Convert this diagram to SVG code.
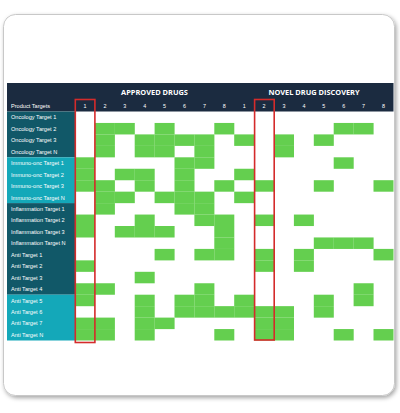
<svg xmlns="http://www.w3.org/2000/svg" width="400" height="413" viewBox="0 0 400 413">
<style>
.lbl{font-family:"Liberation Sans",Arial,sans-serif;font-size:5.6px;fill:#ffffff}
.num{font-family:"Liberation Sans",Arial,sans-serif;font-size:5.4px;fill:#ffffff;text-anchor:middle}
.hd{font-family:"Open Sans","Liberation Sans",sans-serif;font-size:7.4px;font-weight:bold;fill:#ffffff;text-anchor:middle}
.c{fill:#64cf4f}
.dk{fill:#115868}
.br{fill:#14a8b9}
.box{fill:none;stroke:#d42b2b;stroke-width:1.6}
</style>
<defs>
<filter id="sh" x="-5%" y="-5%" width="110%" height="110%">
<feDropShadow dx="1.5" dy="2" stdDeviation="2" flood-color="#000" flood-opacity="0.35"/>
</filter>
</defs>
<rect width="400" height="413" fill="#ffffff"/>
<rect id="card" x="3.5" y="14.5" width="391" height="381" rx="12" fill="#ffffff" stroke="#c8c8c8" stroke-width="1" filter="url(#sh)"/>
<g id="header">
<rect x="7" y="83" width="386.5" height="28.5" fill="#1b2b40"/>
<text class="hd" x="154.5" y="95">APPROVED DRUGS</text>
<text class="hd" x="314" y="95">NOVEL DRUG DISCOVERY</text>
<text class="lbl" x="11" y="108">Product Targets</text>
<text class="num" x="85" y="108">1</text>
<text class="num" x="104.9" y="108">2</text>
<text class="num" x="124.8" y="108">3</text>
<text class="num" x="144.7" y="108">4</text>
<text class="num" x="164.6" y="108">5</text>
<text class="num" x="184.5" y="108">6</text>
<text class="num" x="204.4" y="108">7</text>
<text class="num" x="224.3" y="108">8</text>
<text class="num" x="244.2" y="108">1</text>
<text class="num" x="264.1" y="108">2</text>
<text class="num" x="284" y="108">3</text>
<text class="num" x="303.9" y="108">4</text>
<text class="num" x="323.8" y="108">5</text>
<text class="num" x="343.7" y="108">6</text>
<text class="num" x="363.6" y="108">7</text>
<text class="num" x="383.5" y="108">8</text>
</g>
<g id="labels">
<rect class="dk" x="7" y="111.5" width="68" height="45.8"/>
<rect class="br" x="7" y="157.3" width="68" height="45.8"/>
<rect class="dk" x="7" y="203.1" width="68" height="91.6"/>
<rect class="br" x="7" y="294.7" width="68" height="45.8"/>
<text class="lbl" x="11" y="119.3">Oncology Target  1</text>
<text class="lbl" x="11" y="130.8">Oncology Target  2</text>
<text class="lbl" x="11" y="142.2">Oncology Target  3</text>
<text class="lbl" x="11" y="153.7">Oncology Target  N</text>
<text class="lbl" x="11" y="165.1">Immuno-onc Target 1</text>
<text class="lbl" x="11" y="176.6">Immuno-onc Target 2</text>
<text class="lbl" x="11" y="188">Immuno-onc Target 3</text>
<text class="lbl" x="11" y="199.5">Immuno-onc Target N</text>
<text class="lbl" x="11" y="210.9">Inflammation Target 1</text>
<text class="lbl" x="11" y="222.4">Inflammation Target 2</text>
<text class="lbl" x="11" y="233.8">Inflammation Target 3</text>
<text class="lbl" x="11" y="245.3">Inflammation Target N</text>
<text class="lbl" x="11" y="256.7">Anti Target 1</text>
<text class="lbl" x="11" y="268.2">Anti Target 2</text>
<text class="lbl" x="11" y="279.6">Anti Target 3</text>
<text class="lbl" x="11" y="291.1">Anti Target 4</text>
<text class="lbl" x="11" y="302.5">Anti Target 5</text>
<text class="lbl" x="11" y="314">Anti Target 6</text>
<text class="lbl" x="11" y="325.4">Anti Target 7</text>
<text class="lbl" x="11" y="336.9">Anti Target N</text>
</g>
<g id="cells">
<!-- r2 -->
<rect class="c" x="94.9" y="122.95" width="20" height="11.5"/>
<rect class="c" x="114.8" y="122.95" width="20" height="11.5"/>
<rect class="c" x="154.6" y="122.95" width="20" height="11.5"/>
<rect class="c" x="214.3" y="122.95" width="20" height="11.5"/>
<rect class="c" x="333.7" y="122.95" width="20" height="11.5"/>
<rect class="c" x="353.6" y="122.95" width="20" height="11.5"/>
<!-- r3 -->
<rect class="c" x="94.9" y="134.4" width="20" height="11.5"/>
<rect class="c" x="134.7" y="134.4" width="20" height="11.5"/>
<rect class="c" x="154.6" y="134.4" width="20" height="11.5"/>
<rect class="c" x="174.5" y="134.4" width="20" height="11.5"/>
<rect class="c" x="194.4" y="134.4" width="20" height="11.5"/>
<rect class="c" x="234.2" y="134.4" width="20" height="11.5"/>
<rect class="c" x="274" y="134.4" width="20" height="11.5"/>
<rect class="c" x="313.8" y="134.4" width="20" height="11.5"/>
<!-- r4 -->
<rect class="c" x="94.9" y="145.85" width="20" height="11.5"/>
<rect class="c" x="134.7" y="145.85" width="20" height="11.5"/>
<rect class="c" x="154.6" y="145.85" width="20" height="11.5"/>
<rect class="c" x="194.4" y="145.85" width="20" height="11.5"/>
<rect class="c" x="274" y="145.85" width="20" height="11.5"/>
<!-- r5 -->
<rect class="c" x="75" y="157.3" width="20" height="11.5"/>
<rect class="c" x="174.5" y="157.3" width="20" height="11.5"/>
<rect class="c" x="194.4" y="157.3" width="20" height="11.5"/>
<rect class="c" x="333.7" y="157.3" width="20" height="11.5"/>
<!-- r6 -->
<rect class="c" x="75" y="168.75" width="20" height="11.5"/>
<rect class="c" x="114.8" y="168.75" width="20" height="11.5"/>
<rect class="c" x="134.7" y="168.75" width="20" height="11.5"/>
<rect class="c" x="174.5" y="168.75" width="20" height="11.5"/>
<rect class="c" x="234.2" y="168.75" width="20" height="11.5"/>
<!-- r7 -->
<rect class="c" x="75" y="180.2" width="20" height="11.5"/>
<rect class="c" x="94.9" y="180.2" width="20" height="11.5"/>
<rect class="c" x="134.7" y="180.2" width="20" height="11.5"/>
<rect class="c" x="174.5" y="180.2" width="20" height="11.5"/>
<rect class="c" x="214.3" y="180.2" width="20" height="11.5"/>
<rect class="c" x="254.1" y="180.2" width="20" height="11.5"/>
<rect class="c" x="313.8" y="180.2" width="20" height="11.5"/>
<rect class="c" x="373.5" y="180.2" width="20" height="11.5"/>
<!-- r8 -->
<rect class="c" x="94.9" y="191.65" width="20" height="11.5"/>
<rect class="c" x="114.8" y="191.65" width="20" height="11.5"/>
<rect class="c" x="154.6" y="191.65" width="20" height="11.5"/>
<rect class="c" x="174.5" y="191.65" width="20" height="11.5"/>
<rect class="c" x="194.4" y="191.65" width="20" height="11.5"/>
<rect class="c" x="234.2" y="191.65" width="20" height="11.5"/>
<!-- r9 -->
<rect class="c" x="94.9" y="203.1" width="20" height="11.5"/>
<rect class="c" x="174.5" y="203.1" width="20" height="11.5"/>
<rect class="c" x="194.4" y="203.1" width="20" height="11.5"/>
<!-- r10 -->
<rect class="c" x="75" y="214.55" width="20" height="11.5"/>
<rect class="c" x="134.7" y="214.55" width="20" height="11.5"/>
<rect class="c" x="194.4" y="214.55" width="20" height="11.5"/>
<rect class="c" x="214.3" y="214.55" width="20" height="11.5"/>
<rect class="c" x="254.1" y="214.55" width="20" height="11.5"/>
<rect class="c" x="293.9" y="214.55" width="20" height="11.5"/>
<!-- r11 -->
<rect class="c" x="75" y="226" width="20" height="11.5"/>
<rect class="c" x="114.8" y="226" width="20" height="11.5"/>
<rect class="c" x="134.7" y="226" width="20" height="11.5"/>
<rect class="c" x="154.6" y="226" width="20" height="11.5"/>
<rect class="c" x="214.3" y="226" width="20" height="11.5"/>
<!-- r12 -->
<rect class="c" x="214.3" y="237.45" width="20" height="11.5"/>
<rect class="c" x="313.8" y="237.45" width="20" height="11.5"/>
<rect class="c" x="333.7" y="237.45" width="20" height="11.5"/>
<rect class="c" x="353.6" y="237.45" width="20" height="11.5"/>
<!-- r13 -->
<rect class="c" x="154.6" y="248.9" width="20" height="11.5"/>
<rect class="c" x="194.4" y="248.9" width="20" height="11.5"/>
<rect class="c" x="214.3" y="248.9" width="20" height="11.5"/>
<rect class="c" x="254.1" y="248.9" width="20" height="11.5"/>
<rect class="c" x="293.9" y="248.9" width="20" height="11.5"/>
<rect class="c" x="373.5" y="248.9" width="20" height="11.5"/>
<!-- r14 -->
<rect class="c" x="75" y="260.35" width="20" height="11.5"/>
<rect class="c" x="254.1" y="260.35" width="20" height="11.5"/>
<rect class="c" x="293.9" y="260.35" width="20" height="11.5"/>
<!-- r15 -->
<rect class="c" x="134.7" y="271.8" width="20" height="11.5"/>
<!-- r16 -->
<rect class="c" x="75" y="283.25" width="20" height="11.5"/>
<rect class="c" x="94.9" y="283.25" width="20" height="11.5"/>
<rect class="c" x="194.4" y="283.25" width="20" height="11.5"/>
<rect class="c" x="353.6" y="283.25" width="20" height="11.5"/>
<!-- r17 -->
<rect class="c" x="75" y="294.7" width="20" height="11.5"/>
<rect class="c" x="134.7" y="294.7" width="20" height="11.5"/>
<rect class="c" x="174.5" y="294.7" width="20" height="11.5"/>
<rect class="c" x="194.4" y="294.7" width="20" height="11.5"/>
<rect class="c" x="234.2" y="294.7" width="20" height="11.5"/>
<rect class="c" x="313.8" y="294.7" width="20" height="11.5"/>
<rect class="c" x="353.6" y="294.7" width="20" height="11.5"/>
<!-- r18 -->
<rect class="c" x="134.7" y="306.15" width="20" height="11.5"/>
<rect class="c" x="174.5" y="306.15" width="20" height="11.5"/>
<rect class="c" x="194.4" y="306.15" width="20" height="11.5"/>
<rect class="c" x="214.3" y="306.15" width="20" height="11.5"/>
<rect class="c" x="234.2" y="306.15" width="20" height="11.5"/>
<rect class="c" x="254.1" y="306.15" width="20" height="11.5"/>
<rect class="c" x="274" y="306.15" width="20" height="11.5"/>
<rect class="c" x="313.8" y="306.15" width="20" height="11.5"/>
<!-- r19 -->
<rect class="c" x="75" y="317.6" width="20" height="11.5"/>
<rect class="c" x="94.9" y="317.6" width="20" height="11.5"/>
<rect class="c" x="134.7" y="317.6" width="20" height="11.5"/>
<rect class="c" x="154.6" y="317.6" width="20" height="11.5"/>
<rect class="c" x="254.1" y="317.6" width="20" height="11.5"/>
<rect class="c" x="274" y="317.6" width="20" height="11.5"/>
<!-- r20 -->
<rect class="c" x="75" y="329.05" width="20" height="11.45"/>
<rect class="c" x="94.9" y="329.05" width="20" height="11.45"/>
<rect class="c" x="134.7" y="329.05" width="20" height="11.45"/>
<rect class="c" x="214.3" y="329.05" width="20" height="11.45"/>
<rect class="c" x="254.1" y="329.05" width="20" height="11.45"/>
<rect class="c" x="274" y="329.05" width="20" height="11.45"/>
<rect class="c" x="333.7" y="329.05" width="20" height="11.45"/>
<rect class="c" x="373.5" y="329.05" width="20" height="11.45"/>
</g>
<g id="highlights">
<rect class="box" x="75.3" y="99.5" width="19.6" height="243"/>
<rect class="box" x="254.6" y="99.5" width="19.6" height="240.5"/>
</g>
</svg>
